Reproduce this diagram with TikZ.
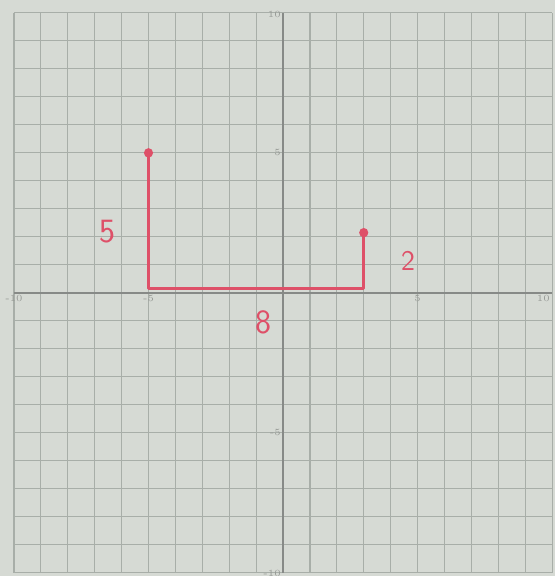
\documentclass[tikz,border=0pt]{standalone}
\usepackage{tikz}
\usepackage{xcolor}
\usetikzlibrary{positioning,calc}
\definecolor{paper}{RGB}{214,218,212}
\definecolor{gridgray}{RGB}{168,174,168}
\definecolor{axisgray}{RGB}{135,138,135}
\definecolor{penred}{RGB}{222,80,104}

\begin{document}
\begin{tikzpicture}[x=0.5cm, y=0.5204cm,
		ticklabel/.style={text=axisgray!80!paper, font=\tiny, inner sep=1pt},
		handlabel/.style={text=penred, font=\fontsize{18}{18}\sffamily}]
				% Paper background and frame
				\fill[paper] (-10.52,-10.11) rectangle (10.11,10.46);
				\useasboundingbox (-10.52,-10.11) rectangle (10.11,10.46);
				
				% Draw grid
				\foreach \i in {-10,...,10} {
					\draw[gridgray, line width=0.6pt] (\i,-10) -- (\i,10);
					\draw[gridgray, line width=0.6pt] (-10,\i) -- (10,\i);
				}
				
				% Draw axes
				\draw[axisgray, line width=0.7pt] (-10,0) -- (10,0);
				\draw[axisgray, line width=0.7pt] (0,-10) -- (0,10);
				
				% Add tick labels
				\node[ticklabel, above left] (ytop) at (0,9.75) {10};
				\node[ticklabel, left] (yfive) at (0,5) {5};
				\node[ticklabel, left] (ymfive) at (0,-5) {-5};
				\node[ticklabel, above left] (ybot) at (0,-10.2) {-10};
				\node[ticklabel, below] (xmten) at (-10,0) {-10};
				\node[ticklabel, below] (xmfive) at (-5,0) {-5};
				\node[ticklabel, below] (xfive) at (5,0) {5};
				\node[ticklabel, below left] (xten) at (10,0) {10};
				
				% Draw the red path
				\coordinate (top) at (-5,5);
				\coordinate (corner1) at (-5,0.15);
				\coordinate (corner2) at (3,0.15);
				\coordinate (end) at (3,2.15);
				\draw[penred, line width=1.5pt, line join=round] (top) -- (corner1) -- (corner2) -- (end);
				\fill[penred] (top) circle (0.17);
				\fill[penred] (end) circle (0.17);
				
				% Add lengths
				\node[handlabel] (lenleft) at (-6.54,2.18) {5};
				\node[handlabel] (lenbottom) at (-0.74,-1.04) {8};
				\node[handlabel, font=\fontsize{15}{15}\sffamily] (lenright) at (4.65,1.14) {2};
			\end{tikzpicture}
\end{document}
